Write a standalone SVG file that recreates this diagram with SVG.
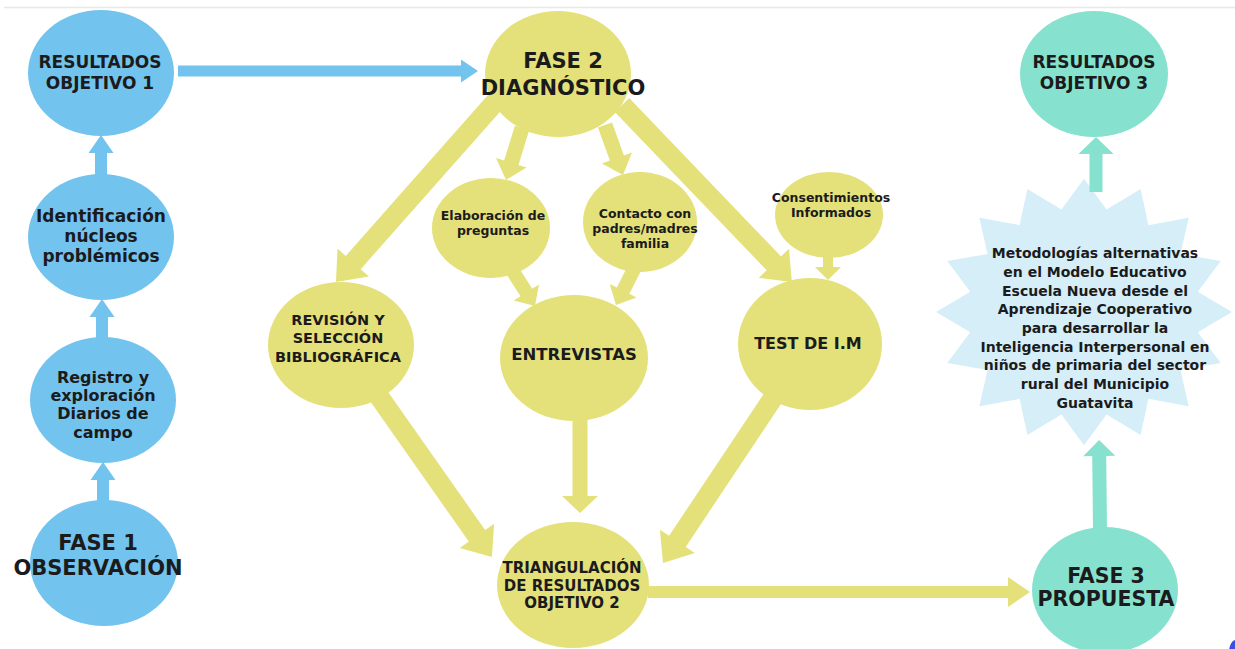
<svg xmlns="http://www.w3.org/2000/svg" width="1235" height="649" viewBox="0 0 1235 649">
<defs>
<style>
.blue{fill:#73C3EF}
.yel{fill:#E4E17B}
.teal{fill:#86E2CF}
.star{fill:#D6EEF8}
text{font-family:"DejaVu Sans","Liberation Sans",sans-serif;font-weight:bold;fill:#1b1b1b;text-anchor:middle}
</style>
</defs>
<rect width="1235" height="649" fill="#ffffff"/>
<line x1="4" y1="7.5" x2="1235" y2="7.5" stroke="#e6e8ec" stroke-width="1.5"/>

<g id="node-propuesta-star">
<polygon class="star" transform="translate(1084,312) scale(1,0.9)" points="0,-148 22.6,-113.8 56.6,-136.7 64.4,-96.5 104.7,-104.7 96.5,-64.4 136.7,-56.6 113.8,-22.6 148,0 113.8,22.6 136.7,56.6 96.5,64.4 104.7,104.7 64.4,96.5 56.6,136.7 22.6,113.8 0,148 -22.6,113.8 -56.6,136.7 -64.4,96.5 -104.7,104.7 -96.5,64.4 -136.7,56.6 -113.8,22.6 -148,0 -113.8,-22.6 -136.7,-56.6 -96.5,-64.4 -104.7,-104.7 -64.4,-96.5 -56.6,-136.7 -22.6,-113.8"/>
<text font-size="14" x="1095" y="258">Metodologías alternativas</text>
<text font-size="14" x="1095" y="277">en el Modelo Educativo</text>
<text font-size="14" x="1095" y="296">Escuela Nueva desde el</text>
<text font-size="14" x="1095" y="314">Aprendizaje Cooperativo</text>
<text font-size="14" x="1095" y="333">para desarrollar la</text>
<text font-size="14" x="1095" y="352">Inteligencia Interpersonal en</text>
<text font-size="14" x="1095" y="370">niños de primaria del sector</text>
<text font-size="14" x="1095" y="389">rural del Municipio</text>
<text font-size="14" x="1095" y="408">Guatavita</text>
</g>

<g id="connectors">
<!-- blue -->
<polygon class="blue" transform="translate(178,71)" points="0,-5.5 283,-5.5 283,-11.5 300,0 283,11.5 283,5.5 0,5.5"/>
<polygon class="blue" transform="translate(101,176) rotate(-90)" points="0,-6 23,-6 23,-12.5 41,0 23,12.5 23,6 0,6"/>
<polygon class="blue" transform="translate(102,340) rotate(-90)" points="0,-6 23,-6 23,-12.5 41,0 23,12.5 23,6 0,6"/>
<polygon class="blue" transform="translate(103,502) rotate(-90)" points="0,-6 22,-6 22,-12.5 40,0 22,12.5 22,6 0,6"/>
<!-- yellow -->
<polygon class="yel" transform="translate(497,100) rotate(131.5)" points="0,-10 217,-10 217,-21 243,0 217,21 217,10 0,10"/>
<polygon class="yel" transform="translate(522,128) rotate(107.1)" points="0,-7.5 36.4,-7.5 36.4,-16 54.4,0 36.4,16 36.4,7.5 0,7.5"/>
<polygon class="yel" transform="translate(605,125) rotate(70.2)" points="0,-7.5 35.1,-7.5 35.1,-16 53.1,0 35.1,16 35.1,7.5 0,7.5"/>
<polygon class="yel" transform="translate(622,105) rotate(46.2)" points="0,-10 219.4,-10 219.4,-21 245.4,0 219.4,21 219.4,10 0,10"/>
<polygon class="yel" transform="translate(828,250) rotate(90)" points="0,-5 17,-5 17,-13 30,0 17,13 17,5 0,5"/>
<polygon class="yel" transform="translate(512,270) rotate(57.4)" points="0,-7 26.7,-7 26.7,-15 42.7,0 26.7,15 26.7,7 0,7"/>
<polygon class="yel" transform="translate(636,265) rotate(116.6)" points="0,-7 28.7,-7 28.7,-15 44.7,0 28.7,15 28.7,7 0,7"/>
<polygon class="yel" transform="translate(378,395) rotate(54.9)" points="0,-10 172.1,-10 172.1,-21 198.1,0 172.1,21 172.1,10 0,10"/>
<polygon class="yel" transform="translate(580,418) rotate(90)" points="0,-7.5 78,-7.5 78,-18 95,0 78,18 78,7.5 0,7.5"/>
<polygon class="yel" transform="translate(773,398) rotate(123.7)" points="0,-10 172.3,-10 172.3,-21 198.3,0 172.3,21 172.3,10 0,10"/>
<polygon class="yel" transform="translate(648,592)" points="0,-6 360,-6 360,-15 382,0 360,15 360,6 0,6"/>
<!-- teal -->
<polygon class="teal" transform="translate(1096,192) rotate(-90)" points="0,-6.5 38,-6.5 38,-17.5 55,0 38,17.5 38,6.5 0,6.5"/>
<polygon class="teal" transform="translate(1100,530) rotate(-90.6)" points="0,-7 74,-7 74,-16 90,0 74,16 74,7 0,7"/>
</g>

<g id="node-resultados1">
<ellipse class="blue" cx="101" cy="73" rx="73" ry="63"/>
<text font-size="17" x="100" y="68">RESULTADOS</text>
<text font-size="17" x="100" y="89">OBJETIVO 1</text>
</g>
<g id="node-identificacion">
<ellipse class="blue" cx="101" cy="237" rx="73" ry="63"/>
<text font-size="17" x="101" y="222">Identificación</text>
<text font-size="17" x="101" y="242">núcleos</text>
<text font-size="17" x="101" y="262">problémicos</text>
</g>
<g id="node-registro">
<ellipse class="blue" cx="103" cy="400" rx="73" ry="63"/>
<text font-size="16" x="103" y="383">Registro y</text>
<text font-size="16" x="103" y="401">exploración</text>
<text font-size="16" x="103" y="419">Diarios de</text>
<text font-size="16" x="103" y="438">campo</text>
</g>
<g id="node-fase1">
<ellipse class="blue" cx="104" cy="563" rx="74" ry="63"/>
<text font-size="21" x="98" y="550">FASE 1</text>
<text font-size="21" x="98" y="575">OBSERVACIÓN</text>
</g>

<g id="node-fase2">
<ellipse class="yel" cx="558" cy="74" rx="73" ry="63"/>
<text font-size="21" x="563" y="68">FASE 2</text>
<text font-size="21" x="563" y="95">DIAGNÓSTICO</text>
</g>
<g id="node-elaboracion">
<ellipse class="yel" cx="491" cy="228" rx="59" ry="50"/>
<text font-size="12.5" x="493" y="220">Elaboración de</text>
<text font-size="12.5" x="493" y="235">preguntas</text>
</g>
<g id="node-contacto">
<ellipse class="yel" cx="640" cy="222" rx="57" ry="50"/>
<text font-size="12.5" x="645" y="218">Contacto con</text>
<text font-size="12.5" x="645" y="233">padres/madres</text>
<text font-size="12.5" x="645" y="248">familia</text>
</g>
<g id="node-consentimientos">
<ellipse class="yel" cx="829" cy="215" rx="54" ry="43"/>
<text font-size="12.5" x="831" y="202">Consentimientos</text>
<text font-size="12.5" x="831" y="217">Informados</text>
</g>
<g id="node-revision">
<ellipse class="yel" cx="341" cy="345" rx="73" ry="63"/>
<text font-size="14.5" x="338" y="325">REVISIÓN Y</text>
<text font-size="14.5" x="338" y="343">SELECCIÓN</text>
<text font-size="14.5" x="338" y="362">BIBLIOGRÁFICA</text>
</g>
<g id="node-entrevistas">
<ellipse class="yel" cx="574" cy="358" rx="74" ry="63"/>
<text font-size="16.5" x="574" y="360">ENTREVISTAS</text>
</g>
<g id="node-test">
<ellipse class="yel" cx="810" cy="344" rx="72" ry="66"/>
<text font-size="16" x="808" y="349">TEST DE I.M</text>
</g>
<g id="node-triangulacion">
<ellipse class="yel" cx="573" cy="585" rx="76" ry="63"/>
<text font-size="15" x="572" y="573">TRIANGULACIÓN</text>
<text font-size="15" x="572" y="591">DE RESULTADOS</text>
<text font-size="15" x="572" y="608">OBJETIVO 2</text>
</g>

<g id="node-resultados3">
<ellipse class="teal" cx="1094" cy="74" rx="74" ry="63"/>
<text font-size="17" x="1094" y="68">RESULTADOS</text>
<text font-size="17" x="1094" y="89">OBJETIVO 3</text>
</g>
<g id="node-fase3">
<ellipse class="teal" cx="1105" cy="590" rx="73" ry="63"/>
<text font-size="20.5" x="1106" y="583">FASE 3</text>
<text font-size="20.5" x="1106" y="606">PROPUESTA</text>
</g>

<ellipse cx="1236" cy="652" rx="7" ry="12" fill="#3b4fe0"/>
</svg>
